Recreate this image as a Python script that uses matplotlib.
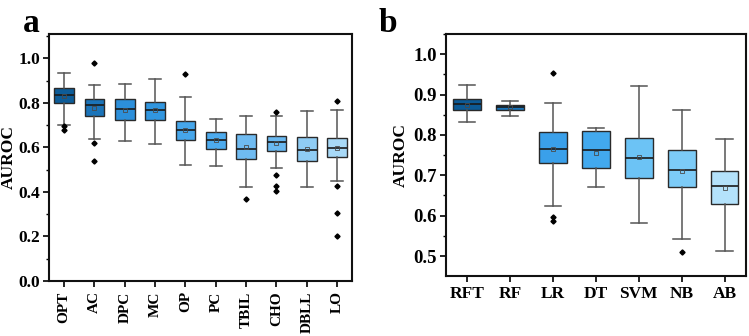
import matplotlib.pyplot as plt
from matplotlib.ticker import MultipleLocator

plt.rcParams["font.family"] = ["Liberation Serif", "DejaVu Serif"]
plt.rcParams["font.weight"] = "bold"

# ---- panel a: feature AUROC ----
feat_names = ["OPT", "AC", "DPC", "MC", "OP", "PC", "TBIL", "CHO", "DBLL", "LO"]
feat_whislo = [0.700, 0.640, 0.627, 0.616, 0.519, 0.518, 0.420, 0.509, 0.420, 0.450]
feat_q1 = [0.799, 0.740, 0.721, 0.725, 0.635, 0.595, 0.550, 0.583, 0.538, 0.557]
feat_med = [0.835, 0.790, 0.773, 0.769, 0.680, 0.634, 0.595, 0.626, 0.589, 0.596]
feat_mean = [0.833, 0.779, 0.770, 0.768, 0.679, 0.632, 0.600, 0.618, 0.594, 0.596]
feat_q3 = [0.866, 0.818, 0.818, 0.806, 0.719, 0.668, 0.659, 0.652, 0.649, 0.643]
feat_whishi = [0.934, 0.880, 0.887, 0.907, 0.826, 0.727, 0.742, 0.740, 0.763, 0.766]
feat_fliers = [
    [0.695, 0.677],
    [0.981, 0.622, 0.537],
    [],
    [],
    [0.931],
    [],
    [0.366],
    [0.761, 0.474, 0.426, 0.405],
    [],
    [0.808, 0.425, 0.303, 0.201],
]
feat_colors = ["#0d5c98", "#1b74b9", "#2c8fda", "#3196df", "#46a6ea",
               "#4dabee", "#6fbbf1", "#69b8f0", "#8fccf4", "#a8d9f7"]

# ---- panel b: model AUROC ----
model_names = ["RFT", "RF", "LR", "DT", "SVM", "NB", "AB"]
model_whislo = [0.832, 0.847, 0.624, 0.672, 0.583, 0.542, 0.513]
model_q1 = [0.862, 0.862, 0.730, 0.718, 0.693, 0.672, 0.630]
model_med = [0.877, 0.869, 0.765, 0.763, 0.743, 0.714, 0.674]
model_mean = [0.875, 0.869, 0.766, 0.756, 0.746, 0.710, 0.669]
model_q3 = [0.889, 0.875, 0.808, 0.809, 0.792, 0.762, 0.710]
model_whishi = [0.923, 0.885, 0.879, 0.818, 0.922, 0.862, 0.791]
model_fliers = [[], [], [0.954, 0.596, 0.586], [], [], [0.511], []]
model_colors = ["#0c5a96", "#1b74b9", "#3aa0ea", "#42a9ee",
                "#6cc3f5", "#7ccbf7", "#b4e2fb"]


def draw_boxes(ax, names, lo, q1, med, mean, q3, hi, fliers, colors, pad, ysize):
    stats = []
    for i in range(len(names)):
        stats.append(dict(label=names[i], whislo=lo[i], q1=q1[i], med=med[i],
                          mean=mean[i], q3=q3[i], whishi=hi[i], fliers=fliers[i]))
    parts = ax.bxp(stats, positions=range(len(names)), widths=0.65,
                   patch_artist=True, showmeans=True,
                   boxprops=dict(edgecolor="#2a2a2a", linewidth=1.0),
                   medianprops=dict(color="#1a1a1a", linewidth=1.2),
                   whiskerprops=dict(color="#555555", linewidth=1.1),
                   capprops=dict(color="#555555", linewidth=1.1),
                   capwidths=0.38,
                   meanprops=dict(marker="s", markersize=3, markerfacecolor="none",
                                  markeredgecolor="#4a4a4a", markeredgewidth=0.6),
                   flierprops=dict(marker="D", markersize=2.6, markerfacecolor="black",
                                   markeredgecolor="black"))
    for box, c in zip(parts["boxes"], colors):
        box.set_facecolor(c)
    ax.set_xlim(-0.5, len(names) - 0.5)
    ax.set_ylabel("AUROC", fontsize=12.5, fontweight="bold", labelpad=pad)
    for sp in ax.spines.values():
        sp.set_linewidth(1.5)
        sp.set_color("#111111")
    ax.tick_params(axis="both", direction="out", width=1.2, length=4)
    ax.tick_params(axis="y", labelsize=ysize, pad=2.5)
    ax.tick_params(axis="y", which="minor", direction="out", width=1.0, length=2.5)


fig = plt.figure(figsize=(7.49, 3.36), dpi=100)
ax_a = fig.add_axes([0.0654, 0.164, 0.405, 0.735])
ax_b = fig.add_axes([0.595, 0.179, 0.401, 0.720])

draw_boxes(ax_a, feat_names, feat_whislo, feat_q1, feat_med, feat_mean,
           feat_q3, feat_whishi, feat_fliers, feat_colors, 1.0, 12.5)
ax_a.set_ylim(0, 1.11)
ax_a.yaxis.set_minor_locator(MultipleLocator(0.1))
ax_a.set_yticks([0.0, 0.2, 0.4, 0.6, 0.8, 1.0])
ax_a.set_yticklabels(["0.0", "0.2", "0.4", "0.6", "0.8", "1.0"], fontweight="bold")
ax_a.set_xticks(range(len(feat_names)))
ax_a.set_xticklabels(feat_names, rotation=90, fontweight="bold", fontsize=11)

draw_boxes(ax_b, model_names, model_whislo, model_q1, model_med, model_mean,
           model_q3, model_whishi, model_fliers, model_colors, 3, 13.5)
ax_b.set_ylim(0.451, 1.05)
ax_b.set_yticks([0.5, 0.6, 0.7, 0.8, 0.9, 1.0])
ax_b.set_yticklabels(["0.5", "0.6", "0.7", "0.8", "0.9", "1.0"], fontweight="bold")
ax_b.yaxis.set_minor_locator(MultipleLocator(0.05))
ax_b.set_xticks(range(len(model_names)))
ax_b.set_xticklabels(model_names, fontweight="bold", fontsize=12.5)

fig.text(0.03, 0.905, "a", fontsize=24, fontweight="bold")
fig.text(0.505, 0.905, "b", fontsize=24, fontweight="bold")

fig.savefig("out.png", dpi=100)
